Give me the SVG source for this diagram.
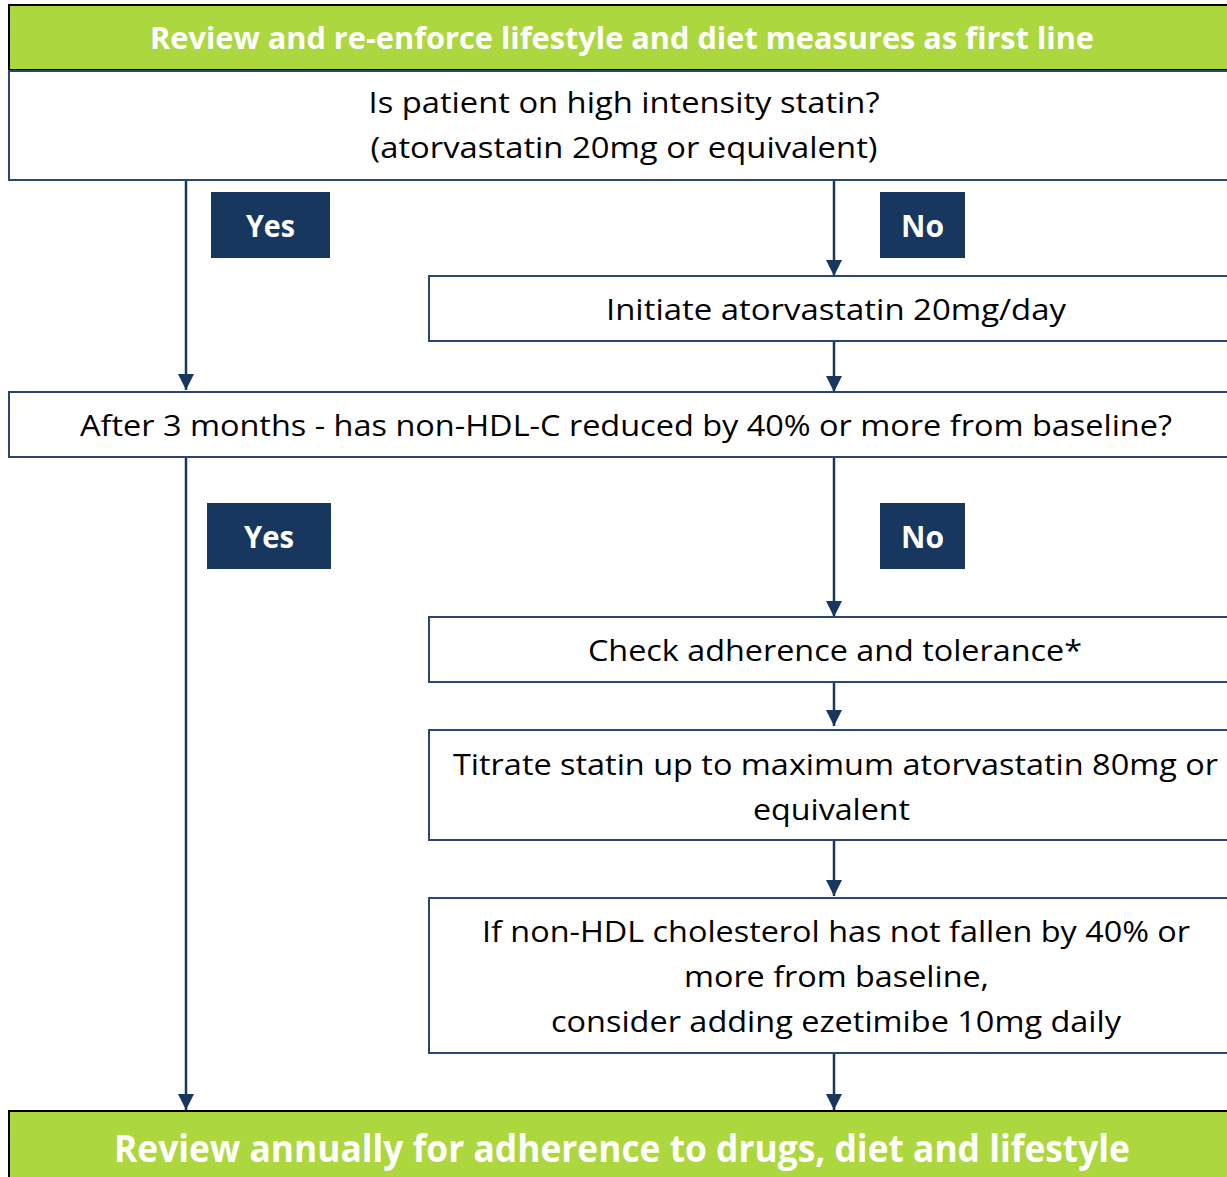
<svg xmlns="http://www.w3.org/2000/svg" width="1227" height="1177" viewBox="0 0 1227 1177">
  <style>
    .band { fill: #ADD73E; stroke: #000; stroke-width: 2; }
    .box { fill: #fff; stroke: #2A4670; stroke-width: 2; }
    .tag { fill: #17375E; }
    .conn { stroke: #17375E; stroke-width: 2.5; fill: none; }
    text { font-family: "Open Sans", "Liberation Sans", sans-serif; }
    .body { font-size: 30px; fill: #000; text-anchor: middle; }
    .head { font-size: 31px; font-weight: bold; fill: #fff; text-anchor: middle; }
    .foot { font-size: 37px; font-weight: bold; fill: #fff; text-anchor: middle; }
    .tagtext { font-size: 30px; font-weight: bold; fill: #fff; text-anchor: middle; }
  </style>
  <defs>
    <marker id="arrow" markerUnits="userSpaceOnUse" markerWidth="18" markerHeight="16" refX="16" refY="8" orient="auto">
      <path d="M0,0 L16,8 L0,16 Z" fill="#17375E"/>
    </marker>
  </defs>
  <rect width="1227" height="1177" fill="#fff"/>

  <!-- connectors -->
  <g id="connectors">
    <line class="conn" x1="186" y1="180" x2="186" y2="390" marker-end="url(#arrow)"/>
    <line class="conn" x1="834" y1="180" x2="834" y2="276" marker-end="url(#arrow)"/>
    <line class="conn" x1="834" y1="341" x2="834" y2="392" marker-end="url(#arrow)"/>
    <line class="conn" x1="186" y1="458" x2="186" y2="1110" marker-end="url(#arrow)"/>
    <line class="conn" x1="834" y1="455" x2="834" y2="617" marker-end="url(#arrow)"/>
    <line class="conn" x1="834" y1="682" x2="834" y2="726" marker-end="url(#arrow)"/>
    <line class="conn" x1="834" y1="840" x2="834" y2="896" marker-end="url(#arrow)"/>
    <line class="conn" x1="834" y1="1053" x2="834" y2="1110" marker-end="url(#arrow)"/>
  </g>

  <!-- first-line header -->
  <g id="header">
    <rect class="band" x="9" y="5" width="1230" height="65"/>
    <text class="head" x="622" y="49" textLength="944" lengthAdjust="spacingAndGlyphs">Review and re-enforce lifestyle and diet measures as first line</text>
  </g>

  <g id="q-statin">
    <rect class="box" x="9" y="71" width="1230" height="109"/>
    <text class="body" x="624" y="113" textLength="511" lengthAdjust="spacingAndGlyphs">Is patient on high intensity statin?</text>
    <text class="body" x="624" y="158" textLength="507" lengthAdjust="spacingAndGlyphs">(atorvastatin 20mg or equivalent)</text>
  </g>

  <g id="yes-1">
    <rect class="tag" x="211" y="192" width="119" height="66"/>
    <text class="tagtext" x="270.5" y="237" textLength="49" lengthAdjust="spacingAndGlyphs">Yes</text>
  </g>
  <g id="no-1">
    <rect class="tag" x="880" y="192" width="85" height="66"/>
    <text class="tagtext" x="922.5" y="237" textLength="43" lengthAdjust="spacingAndGlyphs">No</text>
  </g>

  <g id="initiate">
    <rect class="box" x="429" y="276" width="810" height="65"/>
    <text class="body" x="836" y="320" textLength="460" lengthAdjust="spacingAndGlyphs">Initiate atorvastatin 20mg/day</text>
  </g>

  <g id="q-reduction">
    <rect class="box" x="9" y="392" width="1230" height="65"/>
    <text class="body" x="626" y="436" textLength="1092" lengthAdjust="spacingAndGlyphs">After 3 months - has non-HDL-C reduced by 40% or more from baseline?</text>
  </g>

  <g id="yes-2">
    <rect class="tag" x="207" y="503" width="124" height="66"/>
    <text class="tagtext" x="269" y="548" textLength="50" lengthAdjust="spacingAndGlyphs">Yes</text>
  </g>
  <g id="no-2">
    <rect class="tag" x="880" y="503" width="85" height="66"/>
    <text class="tagtext" x="922.5" y="548" textLength="43" lengthAdjust="spacingAndGlyphs">No</text>
  </g>

  <g id="adherence">
    <rect class="box" x="429" y="617" width="810" height="65"/>
    <text class="body" x="835" y="661" textLength="494" lengthAdjust="spacingAndGlyphs">Check adherence and tolerance*</text>
  </g>

  <g id="titrate">
    <rect class="box" x="429" y="730" width="810" height="110"/>
    <text class="body" x="835.5" y="775" textLength="765" lengthAdjust="spacingAndGlyphs">Titrate statin up to maximum atorvastatin 80mg or</text>
    <text class="body" x="831.5" y="820" textLength="157" lengthAdjust="spacingAndGlyphs">equivalent</text>
  </g>

  <g id="ezetimibe">
    <rect class="box" x="429" y="898" width="810" height="155"/>
    <text class="body" x="836" y="942" textLength="708" lengthAdjust="spacingAndGlyphs">If non-HDL cholesterol has not fallen by 40% or</text>
    <text class="body" x="836.5" y="987" textLength="305" lengthAdjust="spacingAndGlyphs">more from baseline,</text>
    <text class="body" x="836" y="1032" textLength="570" lengthAdjust="spacingAndGlyphs">consider adding ezetimibe 10mg daily</text>
  </g>

  <!-- annual review footer -->
  <g id="footer">
    <rect class="band" x="9" y="1111" width="1230" height="80"/>
    <text class="foot" x="622" y="1162" textLength="1016" lengthAdjust="spacingAndGlyphs">Review annually for adherence to drugs, diet and lifestyle</text>
  </g>
</svg>
